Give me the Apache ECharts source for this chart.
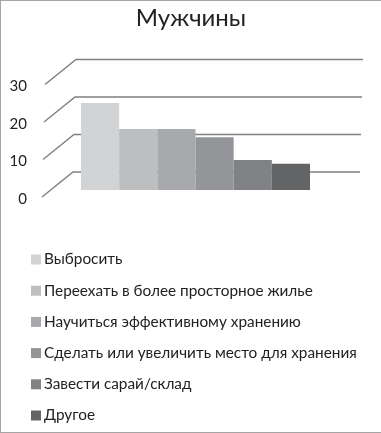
<!DOCTYPE html>
<html><head><meta charset="utf-8">
<script src="https://cdn.jsdelivr.net/npm/echarts@6/dist/echarts.min.js"></script>
<style>html,body{margin:0;padding:0;background:#fff}#c{width:381px;height:433px;box-sizing:border-box;border:1px solid #a6a6a6;border-right:none}</style>
</head><body><div id="c"></div>
<script>
const titleText = 'Мужчины';
const categories = ['Выбросить','Переехать в более просторное жилье','Научиться эффективному хранению','Сделать или увеличить место для хранения','Завести сарай/склад','Другое'];
const values = [23.2,16.3,16.3,14.1,8,7];
const colors = ['#d1d3d4','#bcbec0','#a7a9ac','#939598','#808285','#636466'];
const ticks = [0,10,20,30];
const font = 'Lato, "Open Sans"';
const chart = echarts.init(document.getElementById('c'), null, {renderer:'canvas'});
const series = categories.map((n,i)=>({
  name:n,type:'bar',xAxisIndex:1,yAxisIndex:1,barGap:0,barCategoryGap:0,
  data:[values[i]],itemStyle:{color:colors[i]},z:5,silent:true
}));
series.unshift({
  type:'custom',xAxisIndex:0,yAxisIndex:0,silent:true,z:1,
  encode:{y:0},data:ticks.map(t=>[t]),
  renderItem(params,api){
    const v=api.value(0);
    const p=api.coord([0,v]);
    const s={stroke:'#808080',lineWidth:1.4};
    const skew=v/10;
    const x0=p[0]+skew, y0=p[1]-2, x1=x0+31, y1=y0-25, x2=x1+287;
    return {type:'polyline',shape:{points:[[x0,y0],[x1,y1],[x2,y1]]},style:{...s,fill:null}};
  }
});
chart.setOption({
  animation:false,backgroundColor:'#fff',
  title:{text:titleText,left:'center',top:0,textStyle:{fontFamily:font,fontSize:24,fontWeight:'normal',color:'#222'}},
  legend:{orient:'vertical',left:25,top:246,itemWidth:10,itemHeight:10,itemGap:16.2,
    textStyle:{fontFamily:font,fontSize:15.35,color:'#222',padding:[0,0,0,-2]},
    selectedMode:false,icon:'rect',data:categories},
  grid:[
    {left:41,right:20,top:85.5,height:112.5},
    {left:80,width:229,top:76.5,height:112.5}
  ],
  xAxis:[
    {type:'value',gridIndex:0,min:0,max:300,show:false},
    {type:'category',gridIndex:1,data:[''],show:false}
  ],
  yAxis:[
    {type:'value',gridIndex:0,min:0,max:30,interval:10,axisLine:{show:false},axisTick:{show:false},splitLine:{show:false},
     axisLabel:{fontFamily:font,fontSize:15,color:'#222',margin:15}},
    {type:'value',gridIndex:1,min:0,max:30,show:false}
  ],
  series
});
</script></body></html>
